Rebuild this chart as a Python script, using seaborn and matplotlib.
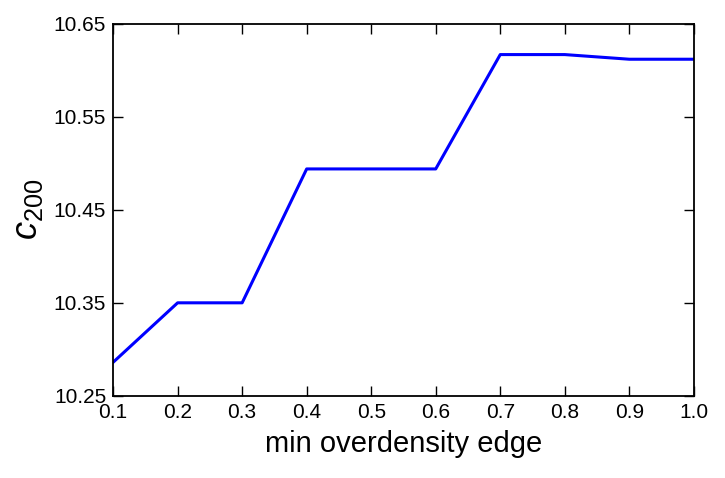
import numpy as np
import matplotlib
matplotlib.use("Agg")
import matplotlib.pyplot as plt
import seaborn as sns

edge = [0.1, 0.2, 0.3, 0.4, 0.5, 0.6, 0.7, 0.8, 0.9, 1.0]
c200 = [10.286, 10.350, 10.350, 10.494, 10.494, 10.494, 10.617, 10.617, 10.612, 10.612]
xticks = [0.1, 0.2, 0.3, 0.4, 0.5, 0.6, 0.7, 0.8, 0.9, 1.0]
yticks = [10.25, 10.35, 10.45, 10.55, 10.65]

sns.set_style("ticks")
plt.rcParams["font.family"] = ["Liberation Sans", "DejaVu Sans"]
plt.rcParams["mathtext.fontset"] = "custom"
plt.rcParams["mathtext.it"] = "Liberation Sans:italic"
plt.rcParams["mathtext.rm"] = "Liberation Sans"

fig = plt.figure(figsize=(7.25, 4.78), dpi=100)
ax = fig.add_axes([0.156, 0.172, 0.801, 0.778])
sns.lineplot(x=edge, y=c200, ax=ax, color="blue", linewidth=2.2)

ax.set_xlim(0.1, 1.0)
ax.set_ylim(10.25, 10.65)
ax.set_xticks(xticks)
ax.set_xticklabels([f"{v:.1f}" for v in xticks])
ax.set_yticks(yticks)
ax.set_yticklabels([f"{v:.2f}" for v in yticks])
ax.tick_params(direction="in", top=True, right=True, length=7, width=1,
               labelsize=15, pad=5, colors="black")
for s in ax.spines.values():
    s.set_linewidth(1.3)
    s.set_color("black")
ax.set_xlabel("min overdensity edge", fontsize=21, color="black", labelpad=6)
ax.set_ylabel(r"$c_{200}$", fontsize=26, color="black", labelpad=6)
fig.savefig("out.png", dpi=100)
